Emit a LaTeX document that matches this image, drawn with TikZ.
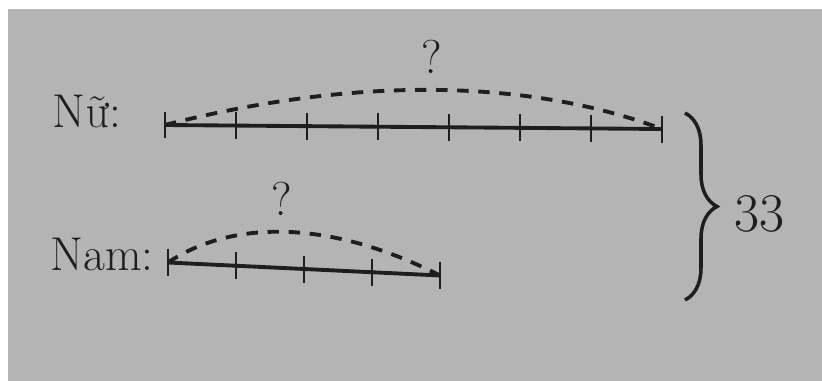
\documentclass[tikz,border=0pt]{standalone}
\usepackage{fontspec}
\usepackage{xcolor}
\usepackage{tikz}
\usetikzlibrary{
  positioning,
  decorations.pathreplacing,
  calc
}
\definecolor{paper}{RGB}{180,180,180}
\definecolor{ink}{RGB}{30,30,30}

\begin{document}
\begin{tikzpicture}[
  bar/.style={ink, line width=2.2pt},
  notch/.style={ink, line width=1.7pt},
  hump/.style={ink, line width=2.2pt, dash pattern=on 6.5pt off 5.5pt},
  lbl/.style={ink, font=\fontsize{27}{30}\selectfont, inner sep=0pt}
]
  % Paper background
  \useasboundingbox (0,0) rectangle (16.44,-7.62);
  \fill[white] (0,0) rectangle (16.44,-7.62);
  \fill[paper] (0.16,-0.18) rectangle (16.44,-7.62);

  % Nu bar: 7 parts
  \coordinate (nuL) at (3.30,-2.50);
  \coordinate (nuR) at (13.24,-2.58);
  \draw[bar] (nuL) -- (nuR);
  \foreach \i in {0,...,7}{
    \draw[notch] ($(nuL)!\i/7!(nuR)+(0,0.27)$) -- ++(0,-0.54);
  }
  \draw[hump] (nuL) .. controls (7.0,-1.55) and (10.5,-1.55) .. (nuR);
  \node[lbl, anchor=base west] (nuLbl) at (1.04,-2.54) {Nữ:};
  \node[lbl] (nuQ) at (8.64,-1.14) {?};

  % Nam bar: 4 parts
  \coordinate (namL) at (3.36,-5.25);
  \coordinate (namR) at (8.80,-5.51);
  \draw[bar] (namL) -- (namR);
  \foreach \i in {0,...,4}{
    \draw[notch] ($(namL)!\i/4!(namR)+(0,0.27)$) -- ++(0,-0.54);
  }
  \draw[hump] (namL) .. controls (4.65,-4.39) and (6.6,-4.39) .. (namR);
  \node[lbl, anchor=base west] (namLbl) at (1.0,-5.40) {Nam:};
  \node[lbl] (namQ) at (5.64,-3.97) {?};

  % Brace and total
  \coordinate (brTop) at (13.7,-2.26);
  \coordinate (brBot) at (13.7,-6.0);
  \coordinate (brTip) at (14.34,-4.13);
  \draw[ink, line width=2pt, decorate, decoration={brace, amplitude=0.64cm, aspect=0.5}] (brTop) -- (brBot);
  \node[ink, font=\fontsize{31}{34}\selectfont, inner sep=0pt, right=0.35cm of brTip, yshift=-0.14cm] (total) {33};
\end{tikzpicture}
\end{document}
